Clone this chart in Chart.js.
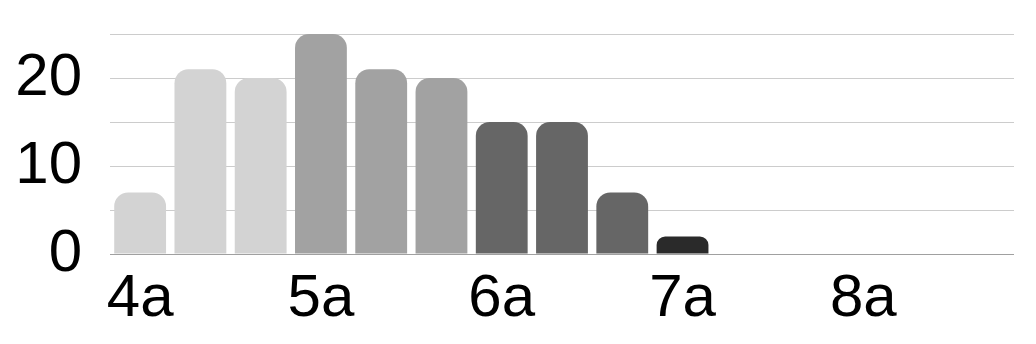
<!DOCTYPE html>
<html>
<head>
<meta charset="utf-8">
<script src="https://cdn.jsdelivr.net/npm/chart.js@4/dist/chart.umd.min.js"></script>
<style>
    html, body { margin: 0; padding: 0; background: #fff; }
    #wrap { width: 1036px; height: 344px; }
</style>
</head>
<body>
<div id="wrap"><canvas id="myChart" width="1036" height="344"></canvas></div>
<script>
// grades on the x axis, only every third one gets a label
const grades = ['4a', '4b', '4c', '5a', '5b', '5c', '6a', '6b', '6c', '7a', '7b', '7c', '8a', '8b', '8c']
const counts = [7, 21, 20, 25, 21, 20, 15, 15, 7, 2, 0, 0, 0, 0, 0]
const yTicks = [0, 10, 20]

// one grey per grade number
const groupColors = {
    '4': '#d3d3d3',
    '5': '#a2a2a2',
    '6': '#666666',
    '7': '#2a2a2a',
    '8': '#111111'
}

const fontFamily = '"Liberation Sans", Arial, sans-serif'

let ctx = document.getElementById('myChart').getContext('2d')
let chart = new Chart(ctx, {
    type: 'bar',
    data: {
        labels: grades,
        datasets: [{
            data: counts,
            backgroundColor: grades.map(g => groupColors[g[0]]),
            borderWidth: 0,
            borderRadius: { topLeft: 14, topRight: 14, bottomLeft: 0, bottomRight: 0 },
            borderSkipped: 'bottom',
            categoryPercentage: 1,
            barPercentage: 0.86
        }]
    },
    options: {
        responsive: false,
        animation: false,
        layout: {
            padding: { top: 34, right: 22, bottom: 0, left: 0 }
        },
        plugins: {
            legend: { display: false },
            tooltip: { enabled: false }
        },
        scales: {
            x: {
                offset: true,
                grid: { display: false },
                border: { display: false },
                ticks: {
                    autoSkip: false,
                    maxRotation: 0,
                    padding: 1,
                    color: '#000',
                    font: { family: fontFamily, size: 60 },
                    callback: (v, i) => i % 3 === 0 ? grades[i] : ''
                },
                afterFit: s => { s.height = 90 }
            },
            y: {
                min: 0,
                max: 25,
                border: { display: false },
                grid: {
                    drawTicks: false,
                    lineWidth: 1,
                    color: c => c.tick && c.tick.value === 0 ? '#a0a0a0' : '#cccccc'
                },
                ticks: {
                    stepSize: 5,
                    autoSkip: false,
                    padding: 28,
                    color: '#000',
                    font: { family: fontFamily, size: 60 },
                    callback: v => yTicks.includes(v) ? v : ''
                },
                afterFit: s => {
                    s.width = 110
                    s.paddingTop = 0
                    s.paddingBottom = 0
                }
            }
        }
    }
})
</script>
</body>
</html>
